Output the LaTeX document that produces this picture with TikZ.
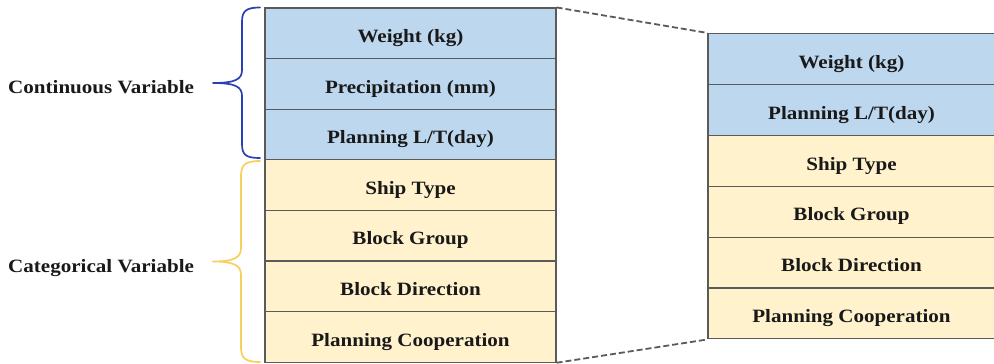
\documentclass[tikz,border=0pt]{standalone}
\usepackage{fontspec}
\setmainfont{Liberation Serif}[FakeStretch=1.12]
\definecolor{cellblue}{HTML}{BDD7EE}
\definecolor{cellyellow}{HTML}{FFF2CC}
\definecolor{gridline}{HTML}{5A5A5A}
\definecolor{bracedark}{HTML}{2A3FB5}
\definecolor{braceyellow}{HTML}{F7CF5C}
\tikzset{
  cell/.style={draw=gridline, line width=1.1pt, minimum height=50.6pt,
    inner sep=0pt, text height=18.5pt, text depth=0pt,
    font=\fontsize{18.8}{22}\selectfont\bfseries, text=black!90},
  leftcell/.style={cell, minimum width=291pt},
  rightcell/.style={cell, minimum width=287pt, minimum height=50.9pt},
  contvar/.style={fill=cellblue},
  catvar/.style={fill=cellyellow},
  zoomline/.style={draw=gridline, line width=1.8pt, dash pattern=on 6pt off 3pt},
  grouplabel/.style={anchor=base west, inner sep=0pt,
    font=\fontsize{18.8}{22}\selectfont\bfseries, text=black!90},
  curly/.style={line width=1.7pt, line cap=round, line join=round}
}
\begin{document}
\begin{tikzpicture}[x=1pt, y=-1pt]
\useasboundingbox (0,0) rectangle (994,364);
% left column: all seven variables
\foreach \i/\txt/\sty in {1/{Weight (kg)}/contvar, 2/{Precipitation (mm)}/contvar,
    3/{Planning L/T(day)}/contvar, 4/{Ship Type}/catvar, 5/{Block Group}/catvar,
    6/{Block Direction}/catvar, 7/{Planning Cooperation}/catvar}
  \node[leftcell, \sty] (L\i) at (410.5, {8 + 50.6*(\i-0.5)}) {\txt};
% right column: the selected variables
\foreach \i/\txt/\sty in {1/{Weight (kg)}/contvar, 2/{Planning L/T(day)}/contvar,
    3/{Ship Type}/catvar, 4/{Block Group}/catvar, 5/{Block Direction}/catvar,
    6/{Planning Cooperation}/catvar}
  \node[rightcell, \sty] (R\i) at (851.5, {33.5 + 50.9*(\i-0.5)}) {\txt};
% dashed zoom lines
\draw[zoomline] (L1.north east) -- (R1.north west);
\draw[zoomline] (L7.south east) -- (R6.south west);
% group braces
\coordinate (cbtop) at (260, 7.5);
\coordinate (cbtip) at (213, 83);
\coordinate (cbbot) at (260, 158);
\coordinate (ybtop) at (260, 161);
\coordinate (ybtip) at (213, 261.5);
\coordinate (ybbot) at (260, 362);
\draw[curly, draw=bracedark] (cbtop)
  .. controls (246,7.5) and (242,11) .. (242,22) -- (242,70)
  .. controls (242,79) and (236,83) .. (cbtip)
  .. controls (236,83) and (242,87) .. (242,96) -- (242,144)
  .. controls (242,155) and (246,158) .. (cbbot);
\draw[curly, draw=braceyellow] (ybtop)
  .. controls (245,161) and (241,165) .. (241,176) -- (241,248)
  .. controls (241,257) and (235,261.5) .. (ybtip)
  .. controls (235,261.5) and (241,266) .. (241,275) -- (241,347)
  .. controls (241,358) and (245,362) .. (ybbot);
% group labels
\node[grouplabel] (cont) at (8, 93) {Continuous Variable};
\node[grouplabel] (cat) at (8, 272) {Categorical Variable};
\end{tikzpicture}
\end{document}
